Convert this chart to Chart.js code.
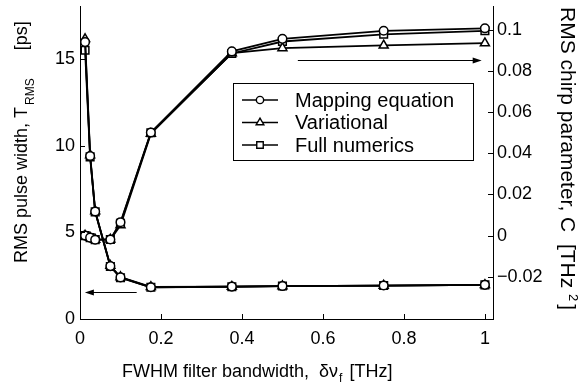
<!DOCTYPE html>
<html lang="en">
<head>
  <meta charset="UTF-8">
  <title>Filter bandwidth</title>
  <script src="https://cdn.jsdelivr.net/npm/chart.js"></script>
  <style>
    body { margin: 0; background: #fff; }
    canvas { display: block; }
  </style>
</head>
<body>
  <canvas id="chart" width="582" height="386"></canvas>

  <script>
    // FWHM filter bandwidth [THz]
    const bandwidth = [0.0125, 0.025, 0.0375, 0.075, 0.1, 0.175, 0.375, 0.5, 0.75, 1.0];

    // RMS pulse width [ps] (left axis)
    const widthMapping     = [15.97, 9.40, 6.20, 3.05, 2.40, 1.83, 1.87, 1.90, 1.93, 1.97];
    const widthVariational = [16.15, 9.45, 6.22, 3.07, 2.42, 1.85, 1.87, 1.90, 1.93, 1.97];
    const widthNumerics    = [15.50, 9.35, 6.18, 3.03, 2.38, 1.83, 1.86, 1.90, 1.93, 1.97];

    // RMS chirp parameter [THz^2] (right axis)
    const chirpMapping     = [0.0000, -0.0010, -0.0020, -0.0019, 0.0065, 0.0500, 0.0894, 0.0955, 0.0994, 0.1006];
    const chirpVariational = [0.0000, -0.0010, -0.0020, -0.0019, 0.0050, 0.0495, 0.0886, 0.0910, 0.0923, 0.0934];
    const chirpNumerics    = [0.0000, -0.0010, -0.0020, -0.0019, 0.0060, 0.0499, 0.0884, 0.0942, 0.0977, 0.0994];

    const seriesNames = ['Mapping equation', 'Variational', 'Full numerics'];
    const markers = ['circle', 'triangle', 'rect'];

    const xTicks = [0, 0.2, 0.4, 0.6, 0.8, 1];
    const leftTicks = [0, 5, 10, 15];
    const rightTicks = [-0.02, 0, 0.02, 0.04, 0.06, 0.08, 0.1];

    // arrows telling which curve belongs to which axis (data units)
    const arrowLeft = { axis: 'y', x0: 0.14, x1: 0.012, y: 1.55 };
    const arrowRight = { axis: 'y1', x0: 0.538, x1: 0.992, y: 0.085 };

    const FONT = '"Liberation Sans", Arial, Helvetica, sans-serif';
    const radius = { circle: 4.3, triangle: 5.2, rect: 5.4 };

    function pts(ys) {
      return bandwidth.map((x, i) => ({ x: x, y: ys[i] }));
    }

    function series(label, ys, axis, style) {
      return {
        label: label,
        data: pts(ys),
        yAxisID: axis,
        borderColor: '#000',
        borderWidth: 1.8,
        pointStyle: style,
        pointRadius: radius[style],
        pointBackgroundColor: '#fff',
        pointBorderColor: '#000',
        pointBorderWidth: 1.5,
        tension: 0
      };
    }

    function drawMarker(ctx, style, x, y, r) {
      ctx.beginPath();
      if (style === 'circle') {
        ctx.arc(x, y, r, 0, Math.PI * 2);
      } else if (style === 'triangle') {
        ctx.moveTo(x, y - r);
        ctx.lineTo(x + r * 0.866, y + r / 2);
        ctx.lineTo(x - r * 0.866, y + r / 2);
        ctx.closePath();
      } else {
        const s = r * Math.SQRT1_2;
        ctx.rect(x - s, y - s, 2 * s, 2 * s);
      }
      ctx.fill();
      ctx.stroke();
    }

    function minus(v) {
      return String(v).replace('-', '\u2212');
    }

    const tickMarks = {
      id: 'tickMarks',
      afterDraw(chart) {
        const { ctx, chartArea: a, scales } = chart;
        ctx.save();
        ctx.strokeStyle = '#000';
        ctx.lineWidth = 1;
        ctx.beginPath();
        scales.x.ticks.forEach(t => {
          const px = Math.round(scales.x.getPixelForValue(t.value)) + 0.5;
          ctx.moveTo(px, a.bottom);
          ctx.lineTo(px, a.bottom - 5);
        });
        scales.y.ticks.forEach(t => {
          const py = Math.round(scales.y.getPixelForValue(t.value)) + 0.5;
          ctx.moveTo(a.left, py);
          ctx.lineTo(a.left + 5, py);
        });
        scales.y1.ticks.forEach(t => {
          const py = Math.round(scales.y1.getPixelForValue(t.value)) + 0.5;
          ctx.moveTo(a.right, py);
          ctx.lineTo(a.right - 5, py);
        });
        ctx.stroke();
        ctx.restore();
      }
    };

    const arrows = {
      id: 'arrows',
      afterDatasetsDraw(chart) {
        const { ctx, scales } = chart;
        ctx.save();
        ctx.strokeStyle = '#000';
        ctx.fillStyle = '#000';
        ctx.lineWidth = 1;
        [arrowLeft, arrowRight].forEach(ar => {
          const x0 = scales.x.getPixelForValue(ar.x0);
          const x1 = scales.x.getPixelForValue(ar.x1);
          const y = Math.round(scales[ar.axis].getPixelForValue(ar.y)) + 0.5;
          const dir = Math.sign(x1 - x0);
          ctx.beginPath();
          ctx.moveTo(x0, y);
          ctx.lineTo(x1 - dir * 6, y);
          ctx.stroke();
          ctx.beginPath();
          ctx.moveTo(x1, y);
          ctx.lineTo(x1 - dir * 9, y - 3);
          ctx.lineTo(x1 - dir * 9, y + 3);
          ctx.closePath();
          ctx.fill();
        });
        ctx.restore();
      }
    };

    const legendBox = {
      id: 'legendBox',
      afterDraw(chart) {
        const ctx = chart.ctx;
        ctx.save();
        ctx.strokeStyle = '#000';
        ctx.lineWidth = 1;
        ctx.fillStyle = '#fff';
        ctx.fillRect(233.5, 83.5, 240, 77);
        ctx.strokeRect(233.5, 83.5, 240, 77);
        ctx.font = '20px ' + FONT;
        ctx.textBaseline = 'middle';
        seriesNames.forEach((name, i) => {
          const y = 100 + i * 22.5;
          ctx.lineWidth = 1.6;
          ctx.beginPath();
          ctx.moveTo(242, y);
          ctx.lineTo(278, y);
          ctx.stroke();
          ctx.lineWidth = 1.4;
          ctx.fillStyle = '#fff';
          drawMarker(ctx, markers[i], 260, y, radius[markers[i]] * 0.85);
          ctx.fillStyle = '#000';
          ctx.fillText(name, 295, y + 1);
        });
        ctx.restore();
      }
    };

    const axisTitles = {
      id: 'axisTitles',
      afterDraw(chart) {
        const ctx = chart.ctx;
        ctx.save();
        ctx.fillStyle = '#000';
        ctx.textBaseline = 'alphabetic';

        // left: RMS pulse width, T_RMS [ps]
        ctx.save();
        ctx.translate(27, 263);
        ctx.rotate(-Math.PI / 2);
        ctx.font = '18px ' + FONT;
        let t = 'RMS pulse width, T';
        ctx.fillText(t, 0, 0);
        let w = ctx.measureText(t).width;
        ctx.font = '12px ' + FONT;
        ctx.fillText('RMS', w + 2, 7);
        w += 2 + ctx.measureText('RMS').width;
        ctx.font = '18px ' + FONT;
        ctx.fillText('[ps]', w + 28, 0);
        ctx.restore();

        // right: RMS chirp parameter, C [THz^2]
        ctx.save();
        ctx.translate(561, 7);
        ctx.rotate(Math.PI / 2);
        ctx.font = '21px ' + FONT;
        t = 'RMS chirp parameter, C  [THz ';
        ctx.fillText(t, 0, 0);
        w = ctx.measureText(t).width;
        ctx.font = '13px ' + FONT;
        ctx.fillText('2', w, -8);
        w += ctx.measureText('2').width + 3;
        ctx.font = '21px ' + FONT;
        ctx.fillText(']', w, 0);
        ctx.restore();

        // bottom: FWHM filter bandwidth, delta nu_f [THz]
        ctx.font = '18px ' + FONT;
        let x = 122;
        t = 'FWHM filter bandwidth,  \u03b4\u03bd';
        ctx.fillText(t, x, 377);
        x += ctx.measureText(t).width + 1;
        ctx.font = '12px ' + FONT;
        ctx.fillText('f', x, 382);
        x += ctx.measureText('f').width + 7;
        ctx.font = '18px ' + FONT;
        ctx.fillText('[THz]', x, 377);
        ctx.restore();
      }
    };

    const tickFont = { family: FONT, size: 18 };

    function noPad(s) {
      s.paddingTop = 0;
      s.paddingBottom = 0;
      s.paddingLeft = 0;
      s.paddingRight = 0;
    }

    new Chart(document.getElementById('chart').getContext('2d'), {
      type: 'line',
      data: {
        datasets: [
          series(seriesNames[0], widthMapping, 'y', markers[0]),
          series(seriesNames[1], widthVariational, 'y', markers[1]),
          series(seriesNames[2], widthNumerics, 'y', markers[2]),
          series(seriesNames[0], chirpMapping, 'y1', markers[0]),
          series(seriesNames[1], chirpVariational, 'y1', markers[1]),
          series(seriesNames[2], chirpNumerics, 'y1', markers[2])
        ]
      },
      options: {
        responsive: false,
        animation: false,
        devicePixelRatio: 1,
        layout: { padding: { top: 5, left: 0, right: 0, bottom: 0 } },
        plugins: { legend: { display: false }, tooltip: { enabled: false } },
        scales: {
          x: {
            type: 'linear',
            min: 0,
            max: 1.02,
            grid: { display: false, drawTicks: false },
            border: { display: true, color: '#000', width: 1 },
            afterBuildTicks: s => { s.ticks = xTicks.map(v => ({ value: v })); },
            afterFit: s => { s.height = 67; noPad(s); },
            ticks: { font: tickFont, color: '#000', padding: 9, maxRotation: 0, autoSkip: false, callback: v => minus(v) }
          },
          y: {
            position: 'left',
            min: 0,
            max: 18,
            grid: { display: false, drawTicks: false },
            border: { display: true, color: '#000', width: 1 },
            afterBuildTicks: s => { s.ticks = leftTicks.map(v => ({ value: v })); },
            afterFit: s => { s.width = 80; noPad(s); },
            ticks: { font: tickFont, color: '#000', padding: 5 }
          },
          y1: {
            position: 'right',
            min: -0.0405,
            max: 0.111,
            grid: { display: false, drawTicks: false },
            border: { display: true, color: '#000', width: 1 },
            afterBuildTicks: s => { s.ticks = rightTicks.map(v => ({ value: v })); },
            afterFit: s => { s.width = 89; noPad(s); },
            ticks: { font: tickFont, color: '#000', padding: 4, callback: v => minus(v) }
          }
        }
      },
      plugins: [tickMarks, arrows, legendBox, axisTitles]
    });
  </script>
</body>
</html>
